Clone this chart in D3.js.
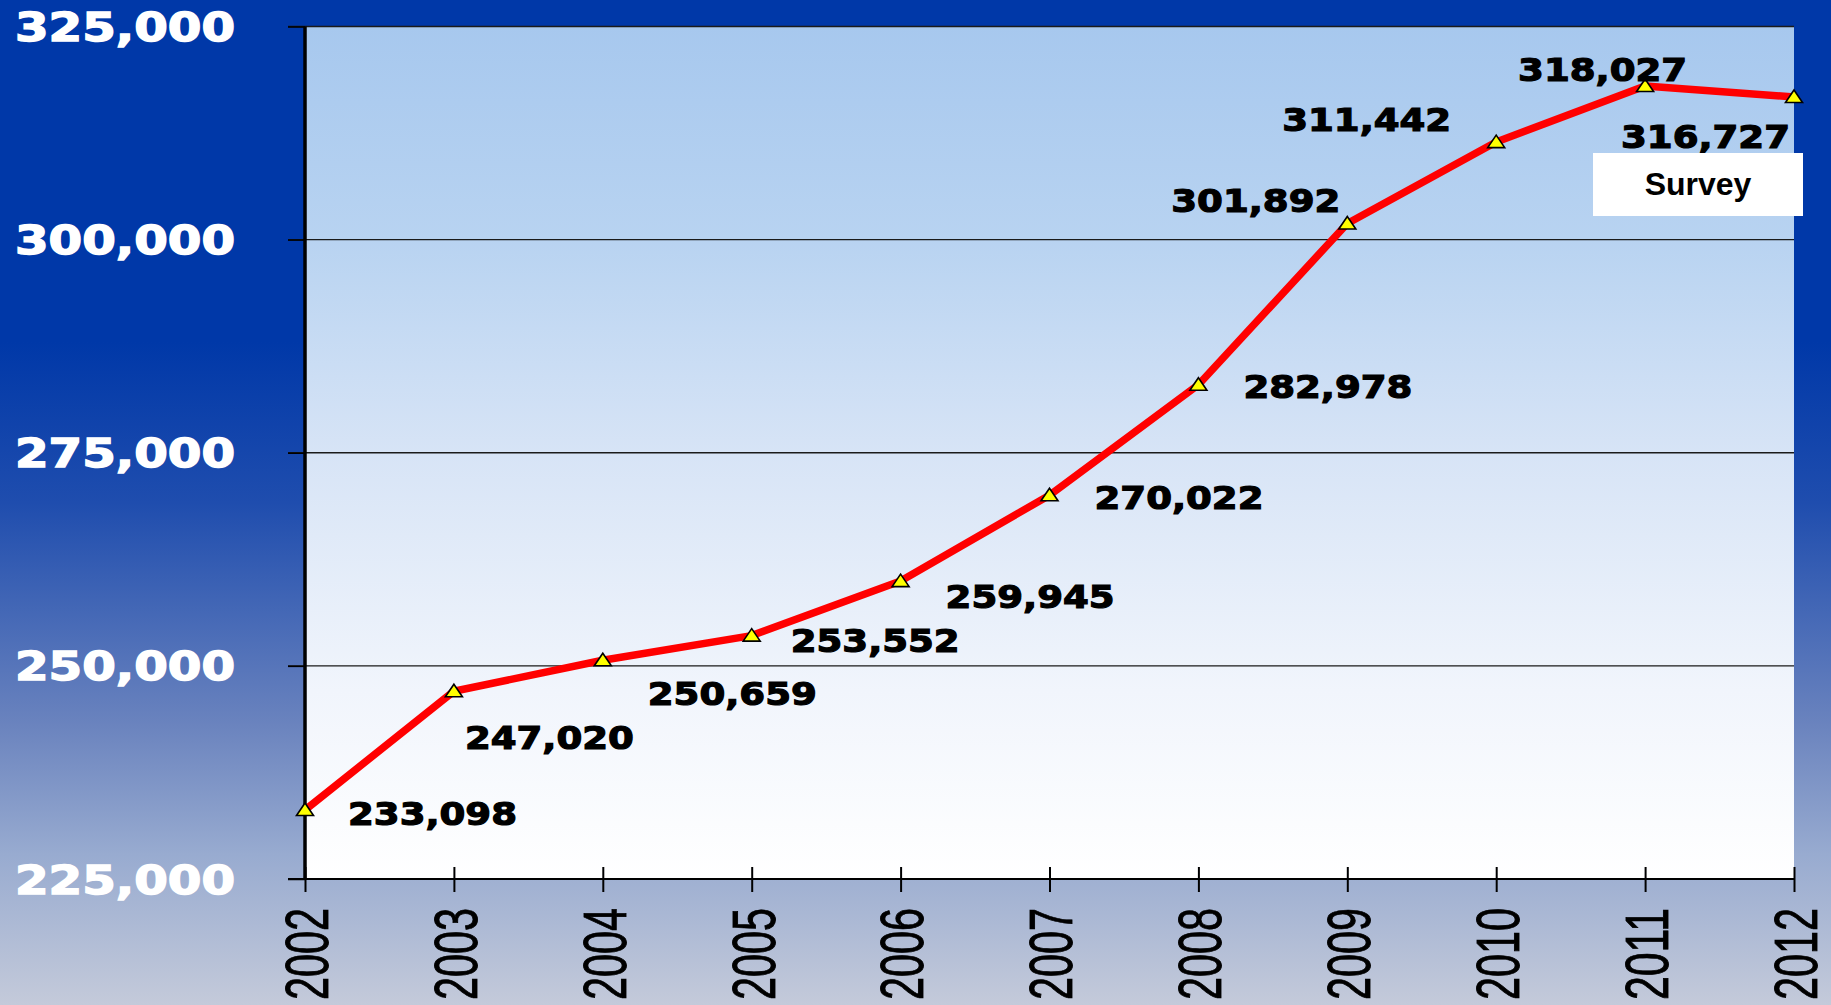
<!DOCTYPE html>
<html>
<head>
<meta charset="utf-8">
<script src="https://cdn.jsdelivr.net/npm/d3@7"></script>
<style>
  html, body { margin: 0; padding: 0; overflow: hidden; }
  svg { display: block; }
</style>
</head>
<body>
<script>
// data
const years = [2002, 2003, 2004, 2005, 2006, 2007, 2008, 2009, 2010, 2011, 2012];
const values = [233098, 247020, 250659, 253552, 259945, 270022, 282978, 301892, 311442, 318027, 316727];
const yTicks = [225000, 250000, 275000, 300000, 325000];
const noteText = "Survey";

// where each value label sits relative to its point: [anchor, dx, dy]
const labelPlacement = [
    ["start", 43, 4], ["start", 11, 46], ["start", 45, 33], ["start", 39, 5],
    ["start", 45, 15], ["start", 45, 2], ["start", 45, 2], ["end", -7, -23],
    ["end", -45, -23], ["start", -127, -16], ["end", -4, 39]
];

const W = 1831, H = 1005;
const margin = {top: 26.5, right: 37, bottom: 126, left: 305};
const width = W - margin.left - margin.right,
    height = H - margin.top - margin.bottom;

const svg = d3.select("body").append("svg")
    .attr("width", W)
    .attr("height", H);

const defs = svg.append("defs");
const pageGrad = defs.append("linearGradient")
    .attr("id", "pageGrad")
    .attr("x1", 0).attr("y1", 0).attr("x2", 0).attr("y2", 1);
[[0, "#0038a8"], [0.34, "#0038a8"], [0.5, "#1f4dae"], [0.72, "#6a83be"], [0.85, "#98abd0"], [1, "#c4cada"]]
    .forEach(s => pageGrad.append("stop").attr("offset", s[0]).attr("stop-color", s[1]));

const plotGrad = defs.append("linearGradient")
    .attr("id", "plotGrad")
    .attr("x1", 0).attr("y1", 0).attr("x2", 0).attr("y2", 1);
[[0, "#a7c8ee"], [0.25, "#b8d3f1"], [0.5, "#d7e4f6"], [0.78, "#f1f5fc"], [1, "#ffffff"]]
    .forEach(s => plotGrad.append("stop").attr("offset", s[0]).attr("stop-color", s[1]));

svg.append("rect")
    .attr("width", W)
    .attr("height", H)
    .attr("fill", "url(#pageGrad)");

const g = svg.append("g")
    .attr("transform", "translate(" + margin.left + "," + margin.top + ")");

g.append("rect")
    .attr("width", width)
    .attr("height", height)
    .attr("fill", "url(#plotGrad)");

const x = d3.scalePoint()
    .domain(years)
    .range([0, width]);
const y = d3.scaleLinear()
    .domain([225000, 325000])
    .range([height, 0]);

// gridlines
g.append("g")
    .selectAll("line")
    .data(yTicks.slice(1))
    .enter()
    .append("line")
    .attr("x1", -17)
    .attr("x2", width)
    .attr("y1", d => y(d))
    .attr("y2", d => y(d))
    .attr("stroke", "#1a1a1a")
    .attr("stroke-width", 1.3);

// y axis
const yAxis = g.append("g")
    .call(d3.axisLeft(y).tickValues(yTicks).tickSize(17).tickFormat(d3.format(",")));
yAxis.select(".domain")
    .attr("stroke", "#000")
    .attr("stroke-width", 3.5)
    .attr("d", `M0,${height}V0`);
yAxis.selectAll(".tick line").attr("stroke", "#000").attr("stroke-width", 1.5);
yAxis.selectAll(".tick text")
    .attr("x", -70)
    .attr("dy", "0.36em")
    .attr("fill", "#fff")
    .attr("stroke", "#fff")
    .attr("stroke-width", 1.4)
    .style("font-family", "'DejaVu Sans', sans-serif")
    .style("font-weight", "bold")
    .style("font-size", "39px")
    .attr("textLength", 220)
    .attr("lengthAdjust", "spacingAndGlyphs");

// x axis
const xAxis = g.append("g")
    .attr("transform", "translate(0," + height + ")")
    .call(d3.axisBottom(x).tickSize(13).tickSizeOuter(0));
xAxis.select(".domain")
    .attr("stroke", "#000")
    .attr("stroke-width", 2.2)
    .attr("d", `M-17,0H${width}`);
xAxis.selectAll(".tick line")
    .attr("y1", -12)
    .attr("stroke", "#000")
    .attr("stroke-width", 2);
xAxis.selectAll(".tick text")
    .attr("transform", "translate(0,29) rotate(-90)")
    .attr("x", 0)
    .attr("y", 0)
    .attr("dy", "0.36em")
    .style("text-anchor", "end")
    .attr("fill", "#000")
    .attr("stroke", "#000")
    .attr("stroke-width", 0.9)
    .style("font-family", "'Liberation Sans', Arial, sans-serif")
    .style("font-size", "62px")
    .attr("textLength", 92)
    .attr("lengthAdjust", "spacingAndGlyphs");

// series line
const pts = years.map((yr, i) => [x(yr), y(values[i])]);
g.append("path")
    .datum(pts)
    .attr("fill", "none")
    .attr("stroke", "#ff0000")
    .attr("stroke-width", 7.5)
    .attr("stroke-linejoin", "round")
    .attr("d", d3.line());

// markers
g.append("g")
    .selectAll("path")
    .data(pts)
    .enter()
    .append("path")
    .attr("transform", d => `translate(${d[0]},${d[1]})`)
    .attr("d", "M0,-7L8.5,5.5L-8.5,5.5Z")
    .attr("fill", "#ffff00")
    .attr("stroke", "#000")
    .attr("stroke-width", 1.6);

// value labels
g.append("g")
    .selectAll("text")
    .data(values)
    .enter()
    .append("text")
    .attr("x", (d, i) => pts[i][0] + labelPlacement[i][1])
    .attr("y", (d, i) => pts[i][1] + labelPlacement[i][2])
    .attr("dy", "0.36em")
    .attr("text-anchor", (d, i) => labelPlacement[i][0])
    .style("font-family", "'DejaVu Sans', sans-serif")
    .style("font-weight", "bold")
    .style("font-size", "32px")
    .attr("fill", "#000")
    .attr("stroke", "#000")
    .attr("stroke-width", 1.2)
    .attr("textLength", 169)
    .attr("lengthAdjust", "spacingAndGlyphs")
    .text(d3.format(","));

// survey note
const note = svg.append("g")
    .attr("transform", "translate(1593,153)");
note.append("rect")
    .attr("width", 210)
    .attr("height", 63)
    .attr("fill", "#fff");
note.append("text")
    .attr("x", 105)
    .attr("y", 42)
    .attr("text-anchor", "middle")
    .style("font-family", "'Liberation Sans', Arial, sans-serif")
    .style("font-weight", "bold")
    .style("font-size", "32px")
    .text(noteText);
</script>
</body>
</html>
